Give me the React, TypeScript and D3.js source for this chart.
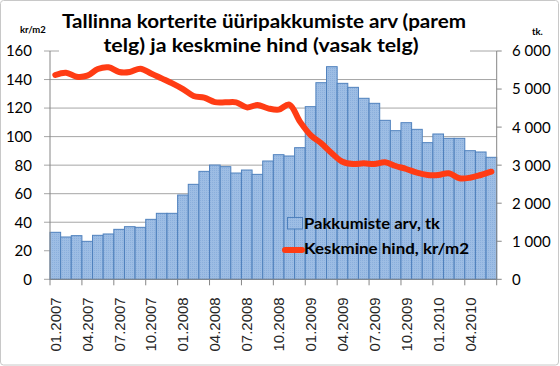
import React from "react";
import * as d3 from "d3";

const months: string[] = [];
for (let y = 2007; y <= 2010; y++) {
  for (let m = 1; m <= 12; m++) {
    if (y === 2010 && m > 6) break;
    months.push(`${String(m).padStart(2, "0")}.${y}`);
  }
}

const offers = [
  1235, 1112, 1147, 998, 1156, 1191, 1313, 1383, 1366, 1576, 1734, 1734,
  2215, 2496, 2837, 3003, 2960, 2793, 2872, 2758, 3109, 3275, 3240, 3459,
  4537, 5167, 5588, 5150, 5045, 4757, 4625, 4178, 3906, 4116, 3941, 3591,
  3819, 3705, 3705, 3380, 3346, 3206,
];

const price = [
  143.2, 144.8, 142.0, 142.7, 147.4, 148.6, 145.3, 145.3, 147.6, 144.3, 140.8, 137.3,
  133.3, 128.5, 127.3, 124.2, 124.0, 124.0, 120.5, 122.1, 119.8, 118.9, 122.4, 110.5,
  101.1, 95.3, 88.3, 82.4, 80.8, 81.3, 80.8, 82.0, 79.4, 77.3, 74.7, 73.1,
  73.1, 74.3, 70.8, 71.2, 73.1, 75.4,
];

const leftTicks = [0, 20, 40, 60, 80, 100, 120, 140, 160];
const rightTicks = [0, 1000, 2000, 3000, 4000, 5000, 6000];

const titleLines = [
  "Tallinna korterite üüripakkumiste arv (parem",
  "telg) ja keskmine hind (vasak telg)",
];

const W = 560, H = 366;
const X0 = 50, X1 = 496.7, Y0 = 279.3, Y1 = 51;
const calibri = "Lato, 'Open Sans', sans-serif";

export default function App() {
  const x = d3.scaleBand<string>().domain(months).range([X0, X1]).padding(0);
  const yL = d3.scaleLinear().domain([0, 160]).range([Y0, Y1]);
  const yR = d3.scaleLinear().domain([0, 6000]).range([Y0, Y1]);
  const bw = x.bandwidth();
  const line = d3
    .line<number>()
    .x((_, i) => (x(months[i]) as number) + bw / 2)
    .y((d) => yL(d))
    .curve(d3.curveCatmullRom.alpha(0.5));

  const fmt = (v: number) => d3.format(",")(v).replace(/,/g, " ");

  return (
    <svg
      width={W}
      height={H}
      style={{ position: "absolute", left: 0, top: 0, background: "#fff" }}
    >
      <defs>
        <pattern id="dots" width="2" height="2" patternUnits="userSpaceOnUse">
          <rect width="2" height="2" fill="#9DBDE4" />
          <rect width="1" height="1" fill="#8BAFDC" />
        </pattern>
      </defs>
      <rect x={0.5} y={0.5} width={W - 2} height={H - 1.5} rx={3} fill="#fff" stroke="#C8C8C8" />

      {/* gridlines */}
      {leftTicks.map((t) => (
        <line key={"g" + t} x1={X0 - 6} x2={X1} y1={yL(t)} y2={yL(t)} stroke="#A6A6A6" strokeWidth={1} />
      ))}

      {/* bars */}
      {offers.map((v, i) => (
        <rect
          key={"b" + i}
          x={x(months[i]) as number}
          y={yR(v)}
          width={bw}
          height={Y0 - yR(v)}
          fill="url(#dots)"
          stroke="#4F81BD"
          strokeWidth={1}
        />
      ))}

      {/* axes */}
      <line x1={X0} x2={X0} y1={Y1} y2={Y0} stroke="#868686" />
      <line x1={X1} x2={X1} y1={Y1} y2={Y0} stroke="#868686" />
      <line x1={X0} x2={X1} y1={Y0} y2={Y0} stroke="#868686" />
      {rightTicks.map((t) => (
        <line key={"rt" + t} x1={X1} x2={X1 + 5} y1={yR(t)} y2={yR(t)} stroke="#868686" />
      ))}
      {months.map((m, i) =>
        i % 3 === 0 ? (
          <line key={"xt" + i} x1={x(m) as number} x2={x(m) as number} y1={Y0} y2={Y0 + 6} stroke="#868686" />
        ) : null
      )}
      <line x1={X1} x2={X1} y1={Y0} y2={Y0 + 6} stroke="#868686" />

      {/* left labels */}
      {leftTicks.map((t) => (
        <text key={"ll" + t} x={32} y={yL(t)} dy="0.36em" textAnchor="end" fontFamily={calibri} fontSize={15} fill="#000">
          {t}
        </text>
      ))}
      {rightTicks.map((t) => (
        <text key={"rl" + t} x={512} y={yR(t)} dy="0.36em" textAnchor="start" fontFamily={calibri} fontSize={15} fill="#000">
          {fmt(t)}
        </text>
      ))}
      {months.map((m, i) =>
        i % 3 === 0 ? (
          <text
            key={"xl" + i}
            transform={`translate(${(x(m) as number) + bw / 2},${Y0 + 18}) rotate(-90)`}
            dy="0.36em"
            textAnchor="end"
            fontFamily="'Liberation Sans', Arial, sans-serif"
            fontSize={15}
            fill="#262626"
          >
            {m}
          </text>
        ) : null
      )}

      <text x={20} y={33} fontFamily={calibri} fontWeight="bold" fontSize={9.5}>kr/m2</text>
      <text x={532} y={35} fontFamily={calibri} fontWeight="bold" fontSize={9.5}>tk.</text>

      {/* price line */}
      <path d={line(price) || ""} fill="none" stroke="#FF3C14" strokeWidth={6} strokeLinejoin="round" strokeLinecap="round" />

      {/* title */}
      <rect x={59} y={5} width={411} height={55} fill="#fff" />
      <text x={62} y={27.5} fontFamily={calibri} fontWeight="bold" fontSize={19} textLength={404} lengthAdjust="spacingAndGlyphs">
        {titleLines[0]}
      </text>
      <text x={103.5} y={52} fontFamily={calibri} fontWeight="bold" fontSize={19} textLength={315} lengthAdjust="spacingAndGlyphs">
        {titleLines[1]}
      </text>

      {/* legend */}
      <rect x={287.5} y={217.5} width={15} height={11.5} fill="url(#dots)" stroke="#4F81BD" />
      <text x={304} y={229} fontFamily={calibri} fontWeight="bold" fontSize={15} textLength={136} lengthAdjust="spacingAndGlyphs">
        Pakkumiste arv, tk
      </text>
      <line x1={285} x2={302} y1={250} y2={250} stroke="#FF3C14" strokeWidth={6} strokeLinecap="round" />
      <text x={304} y={253.5} fontFamily={calibri} fontWeight="bold" fontSize={15} textLength={165} lengthAdjust="spacingAndGlyphs">
        Keskmine hind, kr/m2
      </text>
    </svg>
  );
}
